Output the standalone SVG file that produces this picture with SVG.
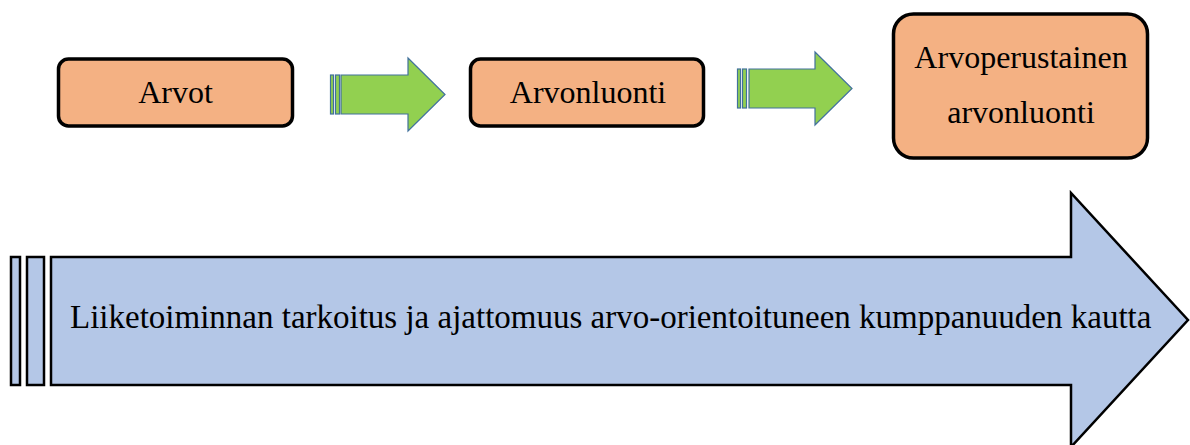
<svg xmlns="http://www.w3.org/2000/svg" width="1190" height="445" viewBox="0 0 1190 445">
<style>
.box{fill:#F4B183;stroke:#000;stroke-width:3.5}
.t{font-family:"Liberation Serif","Times New Roman",serif;font-size:32px;fill:#000;text-anchor:middle}
.g{fill:#92D050;stroke:#41719C;stroke-width:1.2}
.b{fill:#B4C7E7;stroke:#000;stroke-width:2.5}
</style>
<rect width="1190" height="445" fill="#fff"/>
<g id="connectors">
<g id="arrow1">
<rect class="g" x="330.5" y="75" width="3" height="39"/>
<rect class="g" x="335.5" y="75" width="4" height="39"/>
<path class="g" d="M341,75 H408 V58 L445,94.5 L408,131 V114 H341 Z"/>
</g>
<g id="arrow2">
<rect class="g" x="737.5" y="69" width="3" height="39"/>
<rect class="g" x="742.5" y="69" width="4" height="39"/>
<path class="g" d="M749,69 H815 V52 L852,88.5 L815,125 V108 H749 Z"/>
</g>
</g>
<g id="node-arvot">
<rect class="box" x="58.5" y="59" width="234" height="67" rx="10"/>
<text class="t" x="175.5" y="103">Arvot</text>
</g>
<g id="node-arvonluonti">
<rect class="box" x="470.5" y="59" width="233" height="67" rx="10"/>
<text class="t" x="588" y="103">Arvonluonti</text>
</g>
<g id="node-arvoperustainen">
<rect class="box" x="893.5" y="14" width="254" height="144" rx="20"/>
<text class="t" x="1021" y="68">Arvoperustainen</text>
<text class="t" x="1021" y="123">arvonluonti</text>
</g>
<g id="node-liiketoiminta">
<rect class="b" x="11" y="257" width="9" height="128"/>
<rect class="b" x="27" y="257" width="17" height="128"/>
<path class="b" d="M51,257 H1071 V193 L1188,320 L1071,447 V385 H51 Z"/>
<text class="t" x="70" y="328" style="text-anchor:start;font-size:33px">Liiketoiminnan tarkoitus ja ajattomuus arvo-orientoituneen kumppanuuden kautta</text>
</g>
</svg>
